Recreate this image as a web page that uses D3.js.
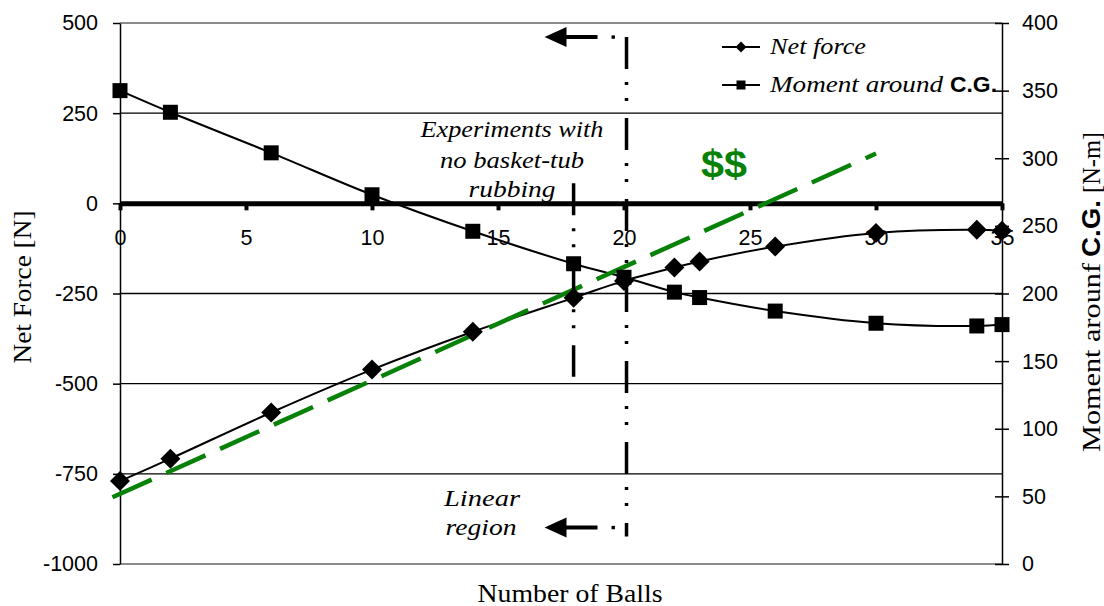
<!DOCTYPE html>
<html>
<head>
<meta charset="utf-8">
<script src="https://cdn.jsdelivr.net/npm/d3@7"></script>
<style>
  body { margin: 0; background: #fff; }
  svg { display: block; }
</style>
</head>
<body>
<div class="chart"></div>
<script>
// DATA
var balls = [0, 2, 6, 10, 14, 18, 20, 22, 23, 26, 30, 34, 35];
var netForce = [-770, -708, -580, -461, -356, -262, -215, -178, -161, -120, -82, -73, -76];
var moment = [350, 334, 304, 273, 246, 222, 212, 201, 197, 187, 178, 176, 177];

// green dashed trend line, end points (balls, net force)
var trendBalls = [-0.3, 30];
var trendForce = [-815, 138];

// tick labels
var xTicks = [0, 5, 10, 15, 20, 25, 30, 35];
var leftTicks = [500, 250, 0, -250, -500, -750, -1000];
var rightTicks = [0, 50, 100, 150, 200, 250, 300, 350, 400];

// dash-dot limit lines: balls, top and bottom (net force)
var limitBalls = [18, 20.1];
var limitTop = [56, 461];
var limitBottom = [-481, -924];
var arrowForce = [461, -899];

// LAYOUT
var w = 1104;
var h = 606;
var plotLeft = 120, plotRight = 1002, plotTop = 23, plotBottom = 564;
var sans = "'Liberation Sans', Arial, sans-serif";
var serif = "'Liberation Serif', 'Times New Roman', serif";
var green = "#078107";

var svg = d3.select(".chart").append("svg").attr("width", w).attr("height", h);

// SCALES
var xScale = d3.scaleLinear().domain([0, 35]).range([plotLeft, plotRight]);
var yLeft = d3.scaleLinear().domain([-1000, 500]).range([plotBottom, plotTop]);
var yRight = d3.scaleLinear().domain([0, 400]).range([plotBottom, plotTop]);

function addText(g, str, x, y, size, family, style, weight, anchor, len) {
  var t = g.append("text")
    .attr("x", x)
    .attr("y", y)
    .attr("font-size", size + "px")
    .attr("font-family", family)
    .attr("font-style", style)
    .attr("font-weight", weight)
    .attr("text-anchor", anchor)
    .text(str);
  if (len) t.attr("textLength", len).attr("lengthAdjust", "spacingAndGlyphs");
  return t;
}

// GRIDLINES
svg.append("g").selectAll("line")
  .data(leftTicks.filter(function (d) { return d !== 0; }))
  .enter()
  .append("line")
  .attr("x1", plotLeft)
  .attr("x2", plotRight)
  .attr("y1", function (d) { return yLeft(d); })
  .attr("y2", function (d) { return yLeft(d); })
  .attr("stroke", function (d) { return (d === 500 || d === -1000) ? "#8c8c8c" : "#000"; })
  .attr("stroke-width", function (d) { return (d === 500 || d === -1000) ? 2 : 1.3; });

// AXES
var tickText = function (d) { return String(d); };

var leftAxis = svg.append("g")
  .attr("transform", "translate(" + plotLeft + ",0)")
  .call(d3.axisLeft(yLeft).tickValues(leftTicks).tickSize(7).tickPadding(15).tickSizeOuter(0).tickFormat(tickText));
leftAxis.attr("font-size", 21.5).attr("font-family", sans);
leftAxis.selectAll("path, line").attr("stroke-width", 1.5);

var rightAxis = svg.append("g")
  .attr("transform", "translate(" + plotRight + ",0)")
  .call(d3.axisRight(yRight).tickValues(rightTicks).tickSize(7).tickPadding(13).tickSizeOuter(0).tickFormat(tickText));
rightAxis.attr("font-size", 21.5).attr("font-family", sans);
rightAxis.selectAll("path, line").attr("stroke-width", 1.5);
rightAxis.selectAll(".tick line").attr("x1", -7);

var xAxis = svg.append("g")
  .attr("transform", "translate(0," + yLeft(0) + ")")
  .call(d3.axisBottom(xScale).tickValues(xTicks).tickSize(7).tickPadding(19).tickSizeOuter(0).tickFormat(tickText));
xAxis.attr("font-size", 21.5).attr("font-family", sans);
xAxis.select(".domain").attr("stroke-width", 5);
xAxis.selectAll(".tick line").attr("stroke-width", 4);

// SERIES LINES
var forcePts = balls.map(function (b, i) { return [b, netForce[i]]; });
var momentPts = balls.map(function (b, i) { return [b, moment[i]]; });

var forceLine = d3.line()
  .x(function (d) { return xScale(d[0]); })
  .y(function (d) { return yLeft(d[1]); })
  .curve(d3.curveCatmullRom);
var momentLine = d3.line()
  .x(function (d) { return xScale(d[0]); })
  .y(function (d) { return yRight(d[1]); })
  .curve(d3.curveCatmullRom);

svg.append("path").datum(forcePts).attr("d", forceLine)
  .attr("fill", "none").attr("stroke", "#000").attr("stroke-width", 2);
svg.append("path").datum(momentPts).attr("d", momentLine)
  .attr("fill", "none").attr("stroke", "#000").attr("stroke-width", 2);

// TREND LINE
svg.append("line")
  .attr("x1", xScale(trendBalls[0]))
  .attr("y1", yLeft(trendForce[0]))
  .attr("x2", xScale(trendBalls[1]))
  .attr("y2", yLeft(trendForce[1]))
  .attr("stroke", green)
  .attr("stroke-width", 4.5)
  .attr("stroke-dasharray", "43,16");

// DASH-DOT LIMIT LINES
limitBalls.forEach(function (b, i) {
  svg.append("line")
    .attr("x1", xScale(b))
    .attr("x2", xScale(b))
    .attr("y1", yLeft(limitTop[i]))
    .attr("y2", yLeft(limitBottom[i]))
    .attr("stroke", "#000")
    .attr("stroke-width", 3.5)
    .attr("stroke-dasharray", "32,13,3,13,3,17");
});

// ARROWS pointing left from the 20-ball line
var lineX = xScale(limitBalls[1]);
arrowForce.forEach(function (f) {
  var y = yLeft(f);
  svg.append("rect").attr("x", lineX - 15).attr("y", y - 1.7).attr("width", 3.4).attr("height", 3.4).attr("fill", "#000");
  svg.append("line").attr("x1", lineX - 29).attr("x2", lineX - 64).attr("y1", y).attr("y2", y)
    .attr("stroke", "#000").attr("stroke-width", 4);
  svg.append("path")
    .attr("d", "M" + (lineX - 82) + "," + y + "L" + (lineX - 60) + "," + (y - 10) + "L" + (lineX - 60) + "," + (y + 10) + "Z")
    .attr("fill", "#000");
});

// MARKERS
var diamond = function (r) { return "M0," + (-r) + "L" + r + ",0L0," + r + "L" + (-r) + ",0Z"; };

svg.append("g").selectAll("path")
  .data(forcePts)
  .enter()
  .append("path")
  .attr("transform", function (d) { return "translate(" + xScale(d[0]) + "," + yLeft(d[1]) + ")"; })
  .attr("d", diamond(10))
  .attr("fill", "#000");

svg.append("g").selectAll("rect")
  .data(momentPts)
  .enter()
  .append("rect")
  .attr("x", function (d) { return xScale(d[0]) - 7.5; })
  .attr("y", function (d) { return yRight(d[1]) - 7.5; })
  .attr("width", 15)
  .attr("height", 15)
  .attr("fill", "#000");

// LEGEND
var legend = svg.append("g");
[47, 85].forEach(function (y, i) {
  legend.append("line").attr("x1", 722).attr("x2", 760).attr("y1", y).attr("y2", y)
    .attr("stroke", "#000").attr("stroke-width", 2);
  if (i === 0) {
    legend.append("path").attr("transform", "translate(741," + y + ")").attr("d", diamond(5.5)).attr("fill", "#000");
  } else {
    legend.append("rect").attr("x", 736.5).attr("y", y - 4.5).attr("width", 9).attr("height", 9).attr("fill", "#000");
  }
});
addText(legend, "Net force", 770, 54, 24, serif, "italic", "normal", "start", 96);
addText(legend, "Moment around", 770, 92, 24, serif, "italic", "normal", "start", 173);
addText(legend, "C.G.", 950, 92, 22, sans, "normal", "bold", "start", 47);

// ANNOTATIONS
addText(svg, "Experiments with", 512, 137, 24, serif, "italic", "normal", "middle", 183);
addText(svg, "no basket-tub", 512, 168, 24, serif, "italic", "normal", "middle", 144);
addText(svg, "rubbing", 512, 197, 24, serif, "italic", "normal", "middle", 87);
addText(svg, "Linear", 482, 506, 24, serif, "italic", "normal", "middle", 76);
addText(svg, "region", 481, 535, 24, serif, "italic", "normal", "middle", 71);
addText(svg, "$$", 701, 177, 38, sans, "normal", "bold", "start", 46).attr("fill", green);

// AXIS TITLES
addText(svg, "Number of Balls", 570, 602, 25, serif, "normal", "normal", "middle", 185);

var leftTitle = svg.append("g").attr("transform", "translate(31,287) rotate(-90)");
addText(leftTitle, "Net Force [N]", 0, 0, 25, serif, "normal", "normal", "middle", 153);

var rightTitle = svg.append("g").attr("transform", "translate(1100,292) rotate(-90)");
addText(rightTitle, "Moment arounf", -160, 0, 25, serif, "normal", "normal", "start", 189);
addText(rightTitle, "C.G.", 35, 0, 25, sans, "normal", "bold", "start", 57);
addText(rightTitle, "[N-m]", 99, 0, 25, serif, "normal", "normal", "start", 61);
</script>
</body>
</html>
